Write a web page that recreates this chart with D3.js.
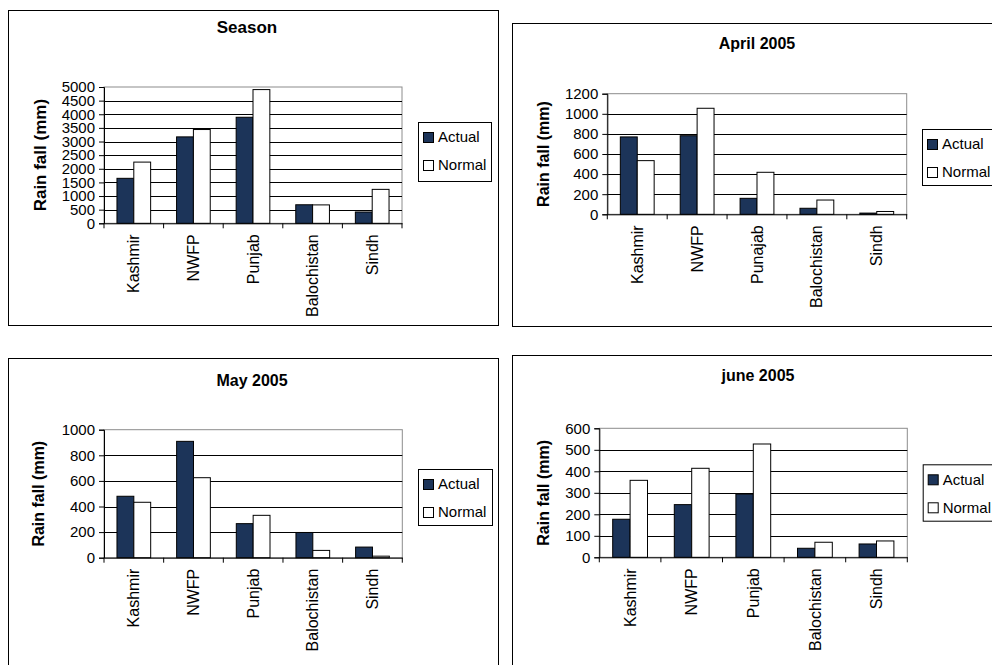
<!DOCTYPE html>
<html><head><meta charset="utf-8">
<script src="https://cdn.jsdelivr.net/npm/d3@7"></script>
<style>
html,body{margin:0;padding:0;background:#fff;}
svg{display:block;font-family:Arial,"Liberation Sans",sans-serif;}
</style></head>
<body>
<svg id="chart" width="992" height="665"></svg>
<script>
// ---- data ----
const categories = ["Kashmir", "NWFP", "Punjab", "Balochistan", "Sindh"];
const categoriesApril = ["Kashmir", "NWFP", "Punajab", "Balochistan", "Sindh"];
const seriesNames = ["Actual", "Normal"];
const titles = ["Season", "April 2005", "May 2005", "june 2005"];
const yAxisLabel = "Rain fall (mm)";

const seasonActual = [1650, 3170, 3890, 680, 415];
const seasonNormal = [2245, 3440, 4905, 675, 1245];
const aprilActual = [770, 782, 159, 60, 12];
const aprilNormal = [534, 1055, 418, 142, 28];
const mayActual = [480, 909, 266, 197, 83];
const mayNormal = [433, 625, 331, 57, 12];
const juneActual = [177, 245, 294, 42, 62];
const juneNormal = [358, 414, 527, 70, 76];

const seasonTicks = [0, 500, 1000, 1500, 2000, 2500, 3000, 3500, 4000, 4500, 5000];
const aprilTicks = [0, 200, 400, 600, 800, 1000, 1200];
const mayTicks = [0, 200, 400, 600, 800, 1000];
const juneTicks = [0, 100, 200, 300, 400, 500, 600];

// ---- layout / style ----
const COLORS = {Actual: "#1c3459", Normal: "#ffffff"};
const panels = [
  {title: titles[0], cats: categories, actual: seasonActual, normal: seasonNormal, ticks: seasonTicks,
   frame: [8, 10, 490, 315], plot: [104, 87, 402, 223.3], legend: [418, 122, 73, 59],
   titleX: 247, titleY: 33, titleSize: 17, ylabX: 40, ylabSize: 17},
  {title: titles[1], cats: categoriesApril, actual: aprilActual, normal: aprilNormal, ticks: aprilTicks,
   frame: [512, 23, 500, 303], plot: [607.3, 93.7, 906.7, 214.3], legend: [922, 129, 80, 56],
   titleX: 757, titleY: 49, titleSize: 16, ylabX: 543, ylabSize: 16},
  {title: titles[2], cats: categories, actual: mayActual, normal: mayNormal, ticks: mayTicks,
   frame: [8, 358, 490, 320], plot: [104, 429.7, 402.3, 557.7], legend: [418, 469, 74, 56],
   titleX: 252, titleY: 386, titleSize: 16, ylabX: 38, ylabSize: 16},
  {title: titles[3], cats: categories, actual: juneActual, normal: juneNormal, ticks: juneTicks,
   frame: [512, 355, 500, 320], plot: [599.3, 428.3, 907.3, 557.3], legend: [922.7, 464.3, 80, 56.4],
   titleX: 758, titleY: 381, titleSize: 16, ylabX: 543, ylabSize: 16}
];

const svg = d3.select("#chart");

panels.forEach(p => {
  const g = svg.append("g");
  const [fx, fy, fw, fh] = p.frame;
  g.append("rect").attr("x", fx + 0.5).attr("y", fy + 0.5).attr("width", fw).attr("height", fh)
    .attr("fill", "#fff").attr("stroke", "#000").attr("stroke-width", 1);

  const [x0, y0, x1, y1] = p.plot;
  const x = d3.scaleBand().domain(p.cats).range([x0, x1]).padding(0);
  const inner = d3.scaleBand().domain(seriesNames).range([0, x.bandwidth() * 0.565]).padding(0);
  const yMax = p.ticks[p.ticks.length - 1];
  const y = d3.scaleLinear().domain([0, yMax]).range([y1, y0]);

  // plot area border (gray)
  g.append("rect").attr("x", x0).attr("y", y0).attr("width", x1 - x0).attr("height", y1 - y0)
    .attr("fill", "#fff").attr("stroke", "#8c8c8c").attr("stroke-width", 1);

  // gridlines
  g.append("g").selectAll("line").data(p.ticks.filter(t => t > 0 && t < yMax)).join("line")
    .attr("x1", x0).attr("x2", x1).attr("y1", d => Math.round(y(d)) + 0.5).attr("y2", d => Math.round(y(d)) + 0.5)
    .attr("stroke", "#000").attr("stroke-width", 1);

  // bars
  const rows = p.cats.map((c, i) => ({cat: c, Actual: p.actual[i], Normal: p.normal[i]}));
  const grp = g.append("g").selectAll("g").data(rows).join("g")
    .attr("transform", d => `translate(${x(d.cat) + (x.bandwidth() - x.bandwidth() * 0.565) / 2},0)`);
  grp.selectAll("rect").data(d => seriesNames.map(s => ({s, v: d[s]}))).join("rect")
    .attr("x", d => inner(d.s))
    .attr("y", d => y(d.v))
    .attr("width", inner.bandwidth())
    .attr("height", d => y(0) - y(d.v))
    .attr("fill", d => COLORS[d.s])
    .attr("stroke", "#000").attr("stroke-width", 1);

  // y axis
  const yAxis = d3.axisLeft(y).tickValues(p.ticks).tickSize(5).tickPadding(4).tickFormat(d3.format("d"));
  const ya = g.append("g").attr("transform", `translate(${x0},0)`).call(yAxis);
  ya.select(".domain").attr("stroke", "#000");
  ya.selectAll("text").attr("font-size", 15).attr("fill", "#000").attr("font-family", "Arial, 'Liberation Sans', sans-serif");

  // x axis
  const xAxis = d3.axisBottom(x).tickSize(0).tickPadding(10);
  const xa = g.append("g").attr("transform", `translate(0,${y1})`).call(xAxis);
  xa.select(".domain").attr("stroke", "#000");
  xa.selectAll("text").attr("font-size", 16).attr("fill", "#000")
    .attr("font-family", "Arial, 'Liberation Sans', sans-serif")
    .attr("text-anchor", "end").attr("dy", "0.35em")
    .attr("transform", "rotate(-90)")
    .attr("x", -11).attr("y", 0);
  // separators between categories
  const bounds = p.cats.map(c => x(c)).concat([x1]);
  g.append("g").selectAll("line").data(bounds).join("line")
    .attr("x1", d => d).attr("x2", d => d).attr("y1", y1).attr("y2", y1 + 5)
    .attr("stroke", "#000");

  // title
  g.append("text").attr("x", p.titleX).attr("y", p.titleY).attr("text-anchor", "middle")
    .attr("font-weight", "bold").attr("font-size", p.titleSize).text(p.title);

  // y label
  g.append("text").attr("transform", `translate(${p.ylabX},${(y0 + y1) / 2}) rotate(-90)`)
    .attr("text-anchor", "middle").attr("dy", "0.35em")
    .attr("font-weight", "bold").attr("font-size", p.ylabSize).text(yAxisLabel);

  // legend
  const [lx, ly, lw, lh] = p.legend;
  g.append("rect").attr("x", lx + 0.5).attr("y", ly + 0.5).attr("width", lw).attr("height", lh)
    .attr("fill", "#fff").attr("stroke", "#000");
  const li = g.append("g").selectAll("g").data(seriesNames).join("g")
    .attr("transform", (d, i) => `translate(${lx + 5},${ly + 15 + i * 28})`);
  li.append("rect").attr("x", 0.5).attr("y", -4.5).attr("width", 10).attr("height", 10)
    .attr("fill", d => COLORS[d]).attr("stroke", "#000");
  li.append("text").attr("x", 15).attr("dy", "0.35em").attr("font-size", 15).text(d => d);
});
</script>
</body></html>
